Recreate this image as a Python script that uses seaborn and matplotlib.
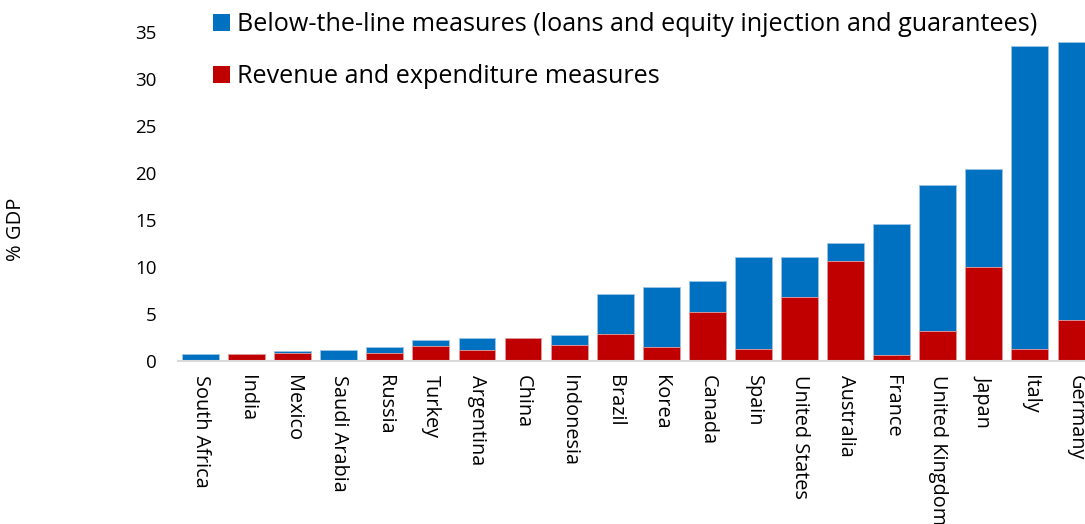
import matplotlib
matplotlib.use("Agg")
import matplotlib.pyplot as plt
from matplotlib.patches import Patch
import seaborn as sns
import pandas as pd

countries = ["South Africa", "India", "Mexico", "Saudi Arabia", "Russia", "Turkey",
             "Argentina", "China", "Indonesia", "Brazil", "Korea", "Canada", "Spain",
             "United States", "Australia", "France", "United Kingdom", "Japan",
             "Italy", "Germany"]
revenue_expenditure = [0.0, 0.7, 0.8, 0.0, 0.8, 1.6, 1.2, 2.45, 1.75, 2.85, 1.45, 5.2,
                       1.25, 6.8, 10.6, 0.65, 3.15, 10.0, 1.25, 4.35]
below_the_line = [0.7, 0.0, 0.3, 1.2, 0.7, 0.6, 1.25, 0.0, 1.0, 4.25, 6.45, 3.3,
                  9.8, 4.25, 1.95, 13.9, 15.55, 10.4, 32.25, 29.6]
yticks = [0, 5, 10, 15, 20, 25, 30, 35]

BLUE = "#0070C0"
RED = "#C00000"

df = pd.DataFrame({"country": countries,
                   "rev": revenue_expenditure,
                   "btl": below_the_line})
df["total"] = df["rev"] + df["btl"]

sns.set_theme(style="white")
plt.rcParams["font.family"] = ["Open Sans", "DejaVu Sans"]
plt.rcParams["text.color"] = "black"

W, H = 1085, 524
fig = plt.figure(figsize=(W / 100, H / 100), dpi=100)
left, right, bottom, top = 177.5, 1099, 361, 32
ax = fig.add_axes([left / W, 1 - bottom / H, (right - left) / W, (bottom - top) / H])

# stacked bars: full total in blue, revenue/expenditure overlaid in red
sns.barplot(data=df, x="country", y="total", color=BLUE, saturation=1, width=0.8,
            edgecolor="#9DC3E6", linewidth=0.6, ax=ax)
sns.barplot(data=df, x="country", y="rev", color=RED, saturation=1, width=0.8,
            edgecolor="#E8A0A0", linewidth=0.6, ax=ax)

ax.set_ylim(0, 35)
ax.set_xlim(-0.5, len(countries) - 0.5)
ax.set_yticks(yticks)
ax.set_yticklabels([str(t) for t in yticks], fontsize=13.5)
ax.set_xticks(range(len(countries)))
ax.set_xticklabels(countries, rotation=-90, fontsize=14.3, ha="center", va="top")
ax.tick_params(axis="y", length=0, pad=15, colors="black")
ax.tick_params(axis="x", length=0, pad=10, colors="black")
ax.set_xlabel("")
ax.set_ylabel("")

for side in ["top", "right", "left"]:
    ax.spines[side].set_visible(False)
ax.spines["bottom"].set_color("#D9D9D9")
ax.spines["bottom"].set_linewidth(1.5)

fig.text(16 / W, 1 - 229 / H, "% GDP", rotation=90, ha="center", va="center",
         fontsize=14.5, color="black")

handles = [Patch(facecolor=BLUE, edgecolor="none"), Patch(facecolor=RED, edgecolor="none")]
labels = ["Below-the-line measures (loans and equity injection and guarantees)",
          "Revenue and expenditure measures"]
fig.legend(handles, labels, loc="upper left", bbox_to_anchor=(213 / W, 1 - 12 / H),
           frameon=False, fontsize=18.1, handlelength=0.66, handleheight=0.66,
           handletextpad=0.3, labelspacing=1.08, borderpad=0, borderaxespad=0,
           labelcolor="black")

fig.savefig("out.png", dpi=100)
